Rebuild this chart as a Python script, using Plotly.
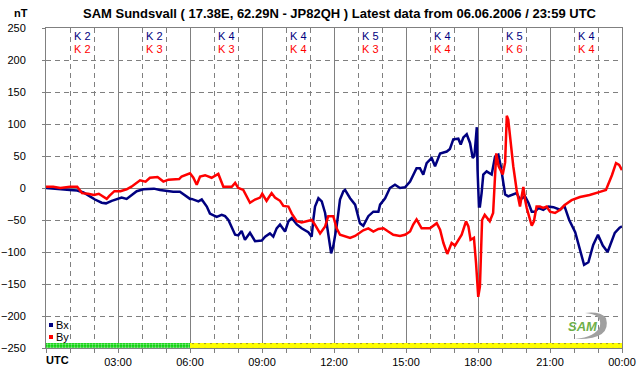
import plotly.graph_objects as go

# ---- data (hours UTC, nT) ----
bx_hours = [0.0, 0.5, 1.0, 1.3, 1.56, 1.83, 2.04, 2.32, 2.5, 2.74, 2.95, 3.15, 3.36, 3.57, 3.78, 4.06, 4.5, 4.75,
            5.03, 5.3, 5.58, 5.79, 6.0, 6.07, 6.35, 6.49, 6.7, 6.83, 7.11, 7.32, 7.46, 7.6, 7.74, 7.88, 8.01, 8.15,
            8.29, 8.5, 8.71, 8.99, 9.13, 9.33, 9.47, 9.61, 9.75, 9.96, 10.1, 10.24, 10.45, 10.65, 10.93, 11.07,
            11.14, 11.21, 11.35, 11.49, 11.63, 11.76, 11.88, 11.97, 12.11, 12.25, 12.39, 12.46, 12.67, 12.88,
            13.08, 13.22, 13.43, 13.64, 13.85, 13.92, 14.13, 14.33, 14.54, 14.75, 14.96, 15.17, 15.44, 15.58,
            15.72, 15.86, 16.07, 16.21, 16.42, 16.7, 16.83, 16.97, 17.18, 17.28, 17.39, 17.53, 17.67, 17.78,
            17.85, 17.95, 17.98, 18.04, 18.08, 18.15, 18.22, 18.36, 18.57, 18.71, 18.85, 18.95, 19.05, 19.13,
            19.26, 19.47, 19.61, 19.75, 19.96, 20.1, 20.24, 20.38, 20.51, 20.72, 20.93, 21.14, 21.42, 21.6,
            21.8, 22.05, 22.25, 22.42, 22.6, 22.8, 23.0, 23.2, 23.4, 23.7, 23.9, 24.0]
bx_values = [0, -1, -3, -4, -7, -13, -18, -23, -24, -20, -18, -15, -17, -11, -5, -2, -1, -3,
             -4.5, -6, -6, -12, -17, -17, -21, -18, -29, -40, -45, -42, -44, -50, -63, -73, -74, -67,
             -81, -70, -83, -82, -76, -71, -76, -63, -57, -68, -52, -47, -57, -63, -69, -76,
             -49, -29, -16, -21, -39, -76, -102, -91, -60, -18, -5, -3, -16, -26,
             -55, -59, -44, -37, -37, -26, -16, 0, 5, 0, 1, 10, 31, 31,
             21, 39, 47, 34, 54, 57, 61, 76, 77, 68, 79, 84, 70, 47,
             50, 95, 29, -29, -29, -8, 21, 26, 21, 49, 52, 34, 13, -10,
             -13, -10, -8, -18, -13, -23, -37, -37, -31, -34, -29, -30, -34, -28,
             -50, -69, -97, -120, -116, -89, -73, -90, -100, -70, -62, -60]

by_hours = [0.0, 0.3, 0.6, 1.0, 1.3, 1.5, 1.75, 2.0, 2.2, 2.53, 2.65, 2.85, 3.1, 3.36, 3.56, 3.75, 3.92, 4.15,
            4.33, 4.65, 4.89, 5.1, 5.35, 5.55, 5.65, 5.84, 6.0, 6.14, 6.28, 6.42, 6.63, 6.9, 7.18, 7.39, 7.74,
            7.88, 8.01, 8.22, 8.5, 8.71, 8.92, 9.01, 9.19, 9.4, 9.54, 9.75, 9.89, 10.1, 10.24, 10.45, 10.65,
            10.86, 11.07, 11.2, 11.42, 11.63, 11.76, 11.97, 12.11, 12.25, 12.46, 12.67, 12.88, 13.08, 13.22,
            13.43, 13.64, 13.85, 14.06, 14.26, 14.47, 14.75, 14.96, 15.17, 15.3, 15.44, 15.65, 16.0, 16.28,
            16.42, 16.56, 16.72, 16.9, 17.04, 17.18, 17.32, 17.5, 17.6, 17.69, 17.83, 17.92, 18.01, 18.08,
            18.12, 18.17, 18.28, 18.49, 18.63, 18.7, 18.76, 18.86, 19.03, 19.13, 19.2, 19.26, 19.33, 19.4,
            19.47, 19.61, 19.75, 19.82, 19.89, 19.96, 20.03, 20.17, 20.24, 20.33, 20.44, 20.58, 20.72, 20.86,
            21.0, 21.21, 21.42, 21.6, 21.9, 22.25, 22.65, 23.08, 23.33, 23.58, 23.75, 23.88, 24.0]
by_values = [2, 2, 0, 2, 2, -8, -9, -11, -9, -17, -12, -5, -5, -2, 2, 7, 12, 10,
             16, 17, 10, 13, 13, 14, 18, 21, 23, 16, 5, 18, 20, 16, 22, 2, 2,
             8, 0, -3, -23, -18, -15, -9, -20, -8, -15, -20, -28, -29, -40, -52, -54,
             -52, -50, -57, -71, -60, -44, -44, -63, -73, -75, -78, -75, -70, -66,
             -63, -68, -64, -63, -68, -73, -75, -73, -68, -57, -49, -63, -63, -55,
             -65, -86, -103, -86, -90, -81, -73, -52, -60, -81, -78, -118, -170, -154,
             -90, -50, -42, -52, -39, 18, 54, 34, 21, 40, 113, 107, 80, 49,
             34, -3, -29, -13, 1.5, -18, -31, -50, -59, -52, -29, -29, -31, -29,
             -37, -39, -34, -27, -19, -14, -11, -6, -3, 20, 39, 36, 28]

k_hours = [1.5, 4.5, 7.5, 10.5, 13.5, 16.5, 19.5, 22.5]
k_bx = [2, 2, 4, 4, 5, 4, 5, 4]
k_by = [2, 3, 3, 4, 3, 4, 6, 4]

x_tick_vals = [0, 3, 6, 9, 12, 15, 18, 21, 24]
x_tick_text = ["", "03:00", "06:00", "09:00", "12:00", "15:00", "18:00", "21:00", "00:00"]

# status band segments (start hour, end hour)
band_start = [0, 6]
band_end = [6, 24]

FONT = "Arial, Liberation Sans, sans-serif"
GRID = "#808080"
BLUE = "#000080"
RED = "#ff0000"

# plot-area pixel geometry helper
L, R, T, B = 46, 622, 28, 348


def px(xp):
    return (xp - L) / (R - L)


def py(yp):
    return (B - yp) / (B - T)


fig = go.Figure()

fig.add_bar(
    x=[(s + e) / 2 for s, e in zip(band_start, band_end)],
    y=[8, 8], base=[-250, -250],
    width=[e - s for s, e in zip(band_start, band_end)],
    marker=dict(color=["#00d000", "#ffff00"], line_width=0,
                pattern=dict(shape=[".", "."], fgcolor=["#008000", "#ff0000"],
                             bgcolor=["#00d000", "#ffff00"], size=[3, 6], solidity=[0.45, 0.12])),
    hoverinfo="skip", showlegend=False,
)

fig.add_scatter(x=bx_hours, y=bx_values, mode="lines", name="Bx",
                line=dict(color=BLUE, width=2.5), showlegend=False)
fig.add_scatter(x=by_hours, y=by_values, mode="lines", name="By",
                line=dict(color=RED, width=2.5), showlegend=False)

ann = []
ann.append(dict(text="<b>SAM Sundsvall ( 17.38E, 62.29N - JP82QH ) Latest data from 06.06.2006 / 23:59 UTC</b>",
                xref="paper", yref="paper", x=px(340), y=py(13), showarrow=False,
                font=dict(size=13, family=FONT, color="black"), xanchor="center", yanchor="middle"))
ann.append(dict(text="<b>nT</b>", xref="paper", yref="paper", x=px(21), y=py(13), showarrow=False,
                font=dict(size=11, family=FONT, color="black"), xanchor="center", yanchor="middle"))
ann.append(dict(text="<b>UTC</b>", xref="paper", yref="paper", x=px(44), y=py(360), showarrow=False,
                font=dict(size=11, family=FONT, color="black"), xanchor="left", yanchor="middle"))
for h, kb, ky in zip(k_hours, k_bx, k_by):
    ann.append(dict(text=f"K {kb}", x=h, y=237, xref="x", yref="y", showarrow=False,
                    font=dict(size=11, family=FONT, color=BLUE), xanchor="center", yanchor="middle"))
    ann.append(dict(text=f"K {ky}", x=h, y=217, xref="x", yref="y", showarrow=False,
                    font=dict(size=11, family=FONT, color=RED), xanchor="center", yanchor="middle"))
# legend texts
ann.append(dict(text="Bx", xref="paper", yref="paper", x=px(54), y=py(325), showarrow=False,
                font=dict(size=11, family=FONT, color="black"), xanchor="left", yanchor="middle"))
ann.append(dict(text="By", xref="paper", yref="paper", x=px(54), y=py(337), showarrow=False,
                font=dict(size=11, family=FONT, color="black"), xanchor="left", yanchor="middle"))
# logo text
ann.append(dict(text="<i><b>SAM</b></i>", xref="paper", yref="paper", x=px(583), y=py(326), showarrow=False,
                font=dict(size=13, family=FONT, color="#6fb04a"), xanchor="center", yanchor="middle"))

shapes = []
shapes.append(dict(type="rect", xref="paper", yref="paper", x0=px(49), x1=px(53), y0=py(323), y1=py(327),
                   fillcolor=BLUE, line_width=0))
shapes.append(dict(type="rect", xref="paper", yref="paper", x0=px(49), x1=px(53), y0=py(335), y1=py(339),
                   fillcolor=RED, line_width=0))
# logo swoosh
p = lambda a, b: f"{px(a):.5f},{py(b):.5f}"
shapes.append(dict(type="path", xref="paper", yref="paper",
                   path=f"M {p(575,339)} Q {p(612,340)} {p(606,318)} Q {p(600,311)} {p(585,313)} "
                        f"Q {p(602,314)} {p(600,326)} Q {p(596,337)} {p(575,339)} Z",
                   fillcolor="#a0a0a0", line_width=0, layer="above"))

fig.update_layout(
    width=642, height=376,
    margin=dict(l=L, r=642 - R, t=T, b=376 - B, autoexpand=False),
    paper_bgcolor="white", plot_bgcolor="white",
    font=dict(family=FONT, size=11, color="black"),
    showlegend=False, annotations=ann, shapes=shapes, bargap=0,
)
fig.update_xaxes(
    range=[0, 24], tickvals=x_tick_vals, ticktext=x_tick_text,
    showgrid=True, gridcolor=GRID, gridwidth=1,
    ticks="outside", ticklen=4, tickcolor=GRID,
    minor=dict(dtick=1, tick0=0, showgrid=True, gridcolor=GRID, griddash="5px,4px",
               ticks="outside", ticklen=4, tickcolor=GRID),
    showline=True, linecolor=GRID, linewidth=1, mirror=True, zeroline=False,
    tickfont=dict(size=11, family=FONT, color="black"), automargin=False,
)
fig.update_yaxes(
    range=[-250, 250], tick0=0, dtick=50,
    showgrid=True, gridcolor=GRID, griddash="5px,4px", gridwidth=1,
    zeroline=True, zerolinecolor=GRID, zerolinewidth=1,
    ticks="outside", ticklen=3, tickcolor=GRID,
    showline=True, linecolor=GRID, linewidth=1, mirror=True,
    tickfont=dict(size=11, family=FONT, color="black"), ticklabelstandoff=14, automargin=False,
)

fig.write_html("out.html", config={"displayModeBar": False},
               post_script="document.body.style.margin='0';document.body.style.overflow='hidden';")
